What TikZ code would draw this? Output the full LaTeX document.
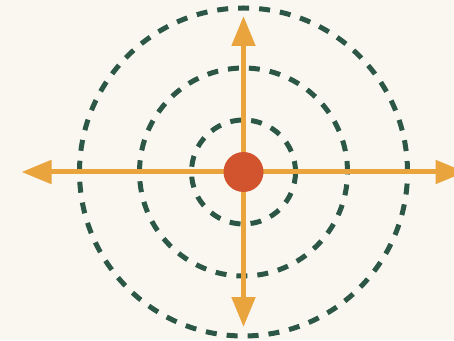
\documentclass[tikz,border=0pt]{standalone}
\usetikzlibrary{arrows.meta}
\definecolor{bgc}{HTML}{FAF7F1}
\definecolor{axisc}{HTML}{E9A43E}
\definecolor{dotc}{HTML}{D2542E}
\definecolor{ringc}{HTML}{2C5746}
\begin{document}
\begin{tikzpicture}[x=1pt,y=1pt,
  ring/.style={draw=ringc,line width=5pt,dash pattern=on 11pt off 10pt},
  axis/.style={draw=axisc,line width=5pt,-{Triangle[length=30pt,width=23pt]}},
  hub/.style={circle,fill=dotc,minimum size=40pt,inner sep=0pt}]
\useasboundingbox (0,0) rectangle (454,340);
\clip (0,0) rectangle (454,340);
\fill[bgc] (0,0) rectangle (454,340);
\coordinate (c) at (243.5,168);
\draw[ring] (c) circle[radius=52];
\draw[ring] (c) circle[radius=104];
\draw[ring] (c) circle[radius=164];
\coordinate (tl) at (21.5,168);
\coordinate (tr) at (465.5,168);
\coordinate (tt) at (243.5,324);
\coordinate (tb) at (243.5,13);
\draw[axis] (c) -- (tl);
\draw[axis] (c) -- (tr);
\draw[axis] (c) -- (tt);
\draw[axis] (c) -- (tb);
\node[hub] (hubdot) at (c) {};
\end{tikzpicture}
\end{document}
